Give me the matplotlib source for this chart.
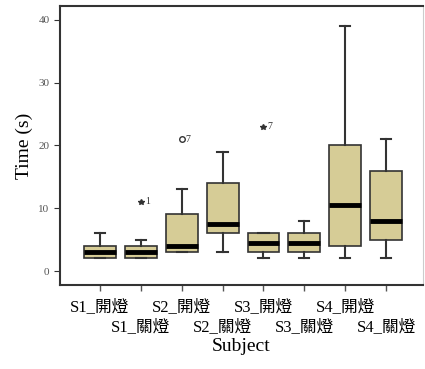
import matplotlib
matplotlib.use('Agg')
import matplotlib.pyplot as plt

plt.rcParams['font.family'] = ['Liberation Serif', 'Noto Sans CJK TC']

labels = ['S1_開燈', 'S1_關燈', 'S2_開燈', 'S2_關燈',
          'S3_開燈', 'S3_關燈', 'S4_開燈', 'S4_關燈']
med = [3, 3, 4, 7.5, 4.5, 4.5, 10.5, 8]
q1 = [2, 2, 3, 6, 3, 3, 4, 5]
q3 = [4, 4, 9, 14, 6, 6, 20, 16]
whislo = [2, 2, 3, 3, 2, 2, 2, 2]
whishi = [6, 5, 13, 19, 6, 8, 39, 21]
# outliers: (box index, value, marker, case label)
outliers = [(1, 11, '*', '1'), (2, 21, 'o', '7'), (4, 23, '*', '7')]

stats = []
for i in range(len(labels)):
    stats.append(dict(med=med[i], q1=q1[i], q3=q3[i],
                      whislo=whislo[i], whishi=whishi[i], fliers=[]))

fig = plt.figure(figsize=(4.25, 3.69), dpi=100)
ax = fig.add_axes([0.141, 0.228, 0.854, 0.756])

pos = list(range(1, len(labels) + 1))
ax.bxp(stats, positions=pos, widths=0.78, patch_artist=True,
       boxprops=dict(facecolor='#d6cc96', edgecolor='#333333', linewidth=1.2),
       medianprops=dict(color='black', linewidth=3.5),
       whiskerprops=dict(color='#333333', linewidth=1.5),
       capprops=dict(color='#333333', linewidth=1.5),
       capwidths=0.25)

for i, v, m, lab in outliers:
    if m == 'o':
        ax.plot(pos[i], v, 'o', ms=4, mfc='white', mec='#333333', mew=1)
    else:
        ax.plot(pos[i], v, '*', ms=4, color='#333333')
    ax.text(pos[i] + 0.1, v, lab, fontsize=7, va='center', ha='left', color='#333333')

ax.set_xlim(0.02, 8.9)
ax.set_ylim(-2.2, 42.2)
ax.set_yticks([0, 10, 20, 30, 40])
ax.tick_params(axis='y', labelsize=8, length=4, color='#333333', labelcolor='#555555')

# alternate labels on two rows: major ticks -> row 1, minor ticks -> row 2
ax.set_xticks(pos[0::2])
ax.set_xticklabels(labels[0::2], fontsize=12)
ax.set_xticks(pos[1::2], minor=True)
ax.set_xticklabels(labels[1::2], minor=True, fontsize=12)
ax.tick_params(axis='x', which='both', length=4, width=1, color='#555555')
ax.tick_params(axis='x', which='major', pad=6)
ax.tick_params(axis='x', which='minor', pad=21)

ax.set_ylabel('Time (s)', fontsize=14)
ax.set_xlabel('Subject', fontsize=14, labelpad=2)

for s in ['left', 'bottom', 'top']:
    ax.spines[s].set_color('#333333')
    ax.spines[s].set_linewidth(1.5)
ax.spines['right'].set_color('#cccccc')

fig.savefig('out.png', dpi=100)
